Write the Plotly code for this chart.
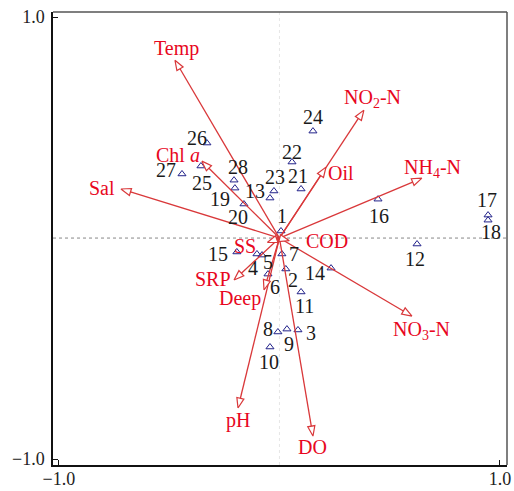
import math
import plotly.graph_objects as go

# ---- Data ----
site_ids = [str(i) for i in range(1, 29)]
site_x = [0.007, 0.029, 0.084, -0.102, -0.079, -0.052, 0.011, -0.007, 0.034, -0.043,
          0.098, 0.624, -0.043, 0.234, -0.193, 0.447, 0.946, 0.946, -0.202, -0.161,
          0.098, 0.057, -0.025, 0.152, -0.356, -0.329, -0.442, -0.206]
site_y = [0.032, -0.140, -0.416, -0.072, -0.077, -0.163, -0.072, -0.425, -0.412, -0.493,
          -0.244, -0.027, 0.181, -0.136, -0.063, 0.176, 0.104, 0.081, 0.226, 0.154,
          0.222, 0.344, 0.213, 0.484, 0.326, 0.430, 0.290, 0.262]

env_names = ["Temp", "Chl <i>a</i>", "Sal", "NO<sub>2</sub>-N", "Oil", "NH<sub>4</sub>-N",
             "NO<sub>3</sub>-N", "DO", "pH", "SRP", "Deep", "SS", "COD"]
env_x = [-0.474, -0.352, -0.719, 0.383, 0.211, 0.646, 0.601, 0.152, -0.188, -0.206, -0.070, -0.055, 0.045]
env_y = [0.805, 0.348, 0.222, 0.579, 0.321, 0.271, -0.353, -0.896, -0.769, -0.190, -0.235, -0.020, -0.012]

x_tick_vals = [-1.0, 1.0]
x_tick_text = ["\u22121.0", "1.0"]
y_tick_vals = [-1.0, 1.0]
y_tick_text = ["\u22121.0", "1.0"]

# ---- Layout helpers (label offsets in px: dx right, dy down) ----
site_offsets = {
    "1": (1, -15), "2": (7, 11), "3": (13, 3), "4": (-4, 14), "5": (6, 7), "6": (7, 13),
    "7": (12, 0), "8": (-10, -3), "9": (2, 15), "10": (-1, 15), "11": (3, 14), "12": (-2, 15),
    "13": (-15, -7), "14": (-16, 5), "15": (-19, 2), "16": (1, 17), "17": (-1, -15),
    "18": (3, 12), "19": (-15, 11), "20": (-6, 13), "21": (-3, -13), "22": (0, -10),
    "23": (1, -14), "24": (0, -14), "25": (1, 17), "26": (-10, -5), "27": (-16, -4),
    "28": (4, -13),
}
env_offsets = [(2, -12), (-24, -6), (-19, -1), (9, -12), (15, 6), (11, -10), (10, 14),
               (0, 11), (0, 13), (-21, -1), (-24, 9), (-22, 4), (38, 0)]

W, H = 514, 491
ML, MR, MT, MB = 53, 7, 12, 26
XR = [-1.027, 1.032]
YR = [-1.027, 1.023]
sx = (W - ML - MR) / (XR[1] - XR[0])
sy = (H - MT - MB) / (YR[1] - YR[0])

RED_LINE = "#d9383a"
RED_TEXT = "#e8071e"
FONT = "Liberation Serif, Times New Roman, serif"

fig = go.Figure()

# reference dotted lines
fig.add_shape(type="line", x0=XR[0], x1=XR[1], y0=0, y1=0,
              line=dict(color="#888888", width=1, dash="dot"), layer="below")
fig.add_shape(type="line", x0=0, x1=0, y0=YR[0], y1=YR[1],
              line=dict(color="#e6e6e6", width=1, dash="dot"), layer="below")
# top and right frame (gray)
fig.add_shape(type="line", xref="paper", yref="paper", x0=0, x1=1, y0=1, y1=1,
              line=dict(color="#555555", width=1.5))
fig.add_shape(type="line", xref="paper", yref="paper", x0=1, x1=1, y0=0, y1=1,
              line=dict(color="#555555", width=1.5))

# sites
fig.add_trace(go.Scatter(x=site_x, y=site_y, mode="markers",
                         marker=dict(symbol="triangle-up-open", size=7,
                                     color="#22228a", line=dict(width=1)),
                         hoverinfo="text", text=site_ids, showlegend=False))

# arrows
L_HEAD, W_HEAD = 10.0, 3.6
for name, ex, ey in zip(env_names, env_x, env_y):
    px, py = ex * sx, ey * sy
    d = math.hypot(px, py)
    ux, uy = px / d, py / d
    nx, ny = -uy, ux
    bx, by = px - L_HEAD * ux, py - L_HEAD * uy
    lx, ly = bx + W_HEAD * nx, by + W_HEAD * ny
    rx, ry = bx - W_HEAD * nx, by - W_HEAD * ny
    fig.add_trace(go.Scatter(x=[0, bx / sx], y=[0, by / sy], mode="lines",
                             line=dict(color=RED_LINE, width=1.3),
                             hoverinfo="skip", showlegend=False))
    fig.add_trace(go.Scatter(x=[ex, lx / sx, rx / sx, ex], y=[ey, ly / sy, ry / sy, ey],
                             mode="lines", fill="toself", fillcolor="white",
                             line=dict(color=RED_LINE, width=1.2),
                             hoverinfo="skip", showlegend=False))

annotations = []
for sid, x, y in zip(site_ids, site_x, site_y):
    dx, dy = site_offsets[sid]
    annotations.append(dict(x=x, y=y, text=sid, showarrow=False, xshift=dx, yshift=-dy,
                            font=dict(family=FONT, size=20, color="#1a1a1a")))
for name, x, y, (dx, dy) in zip(env_names, env_x, env_y, env_offsets):
    annotations.append(dict(x=x, y=y, text=name, showarrow=False, xshift=dx, yshift=-dy,
                            font=dict(family=FONT, size=20, color=RED_TEXT)))

axis_common = dict(showgrid=False, zeroline=False, showline=True, linecolor="#111111",
                   linewidth=1.5, mirror=False, ticks="inside", ticklen=5, tickwidth=1.2,
                   tickcolor="#111111", automargin=False,
                   tickfont=dict(family=FONT, size=18, color="#222222"))

fig.update_layout(
    width=W, height=H,
    margin=dict(l=ML, r=MR, t=MT, b=MB, autoexpand=False),
    paper_bgcolor="white", plot_bgcolor="white",
    xaxis=dict(range=XR, tickvals=x_tick_vals, ticktext=x_tick_text,
               ticklabelstandoff=-3, **axis_common),
    yaxis=dict(range=YR, tickvals=y_tick_vals, ticktext=y_tick_text,
               ticklabelstandoff=3, **axis_common),
    annotations=annotations,
    showlegend=False,
)

fig.write_html("out.html", config={"displayModeBar": False},
               post_script="document.body.style.margin='0px';document.body.style.overflow='hidden';")
